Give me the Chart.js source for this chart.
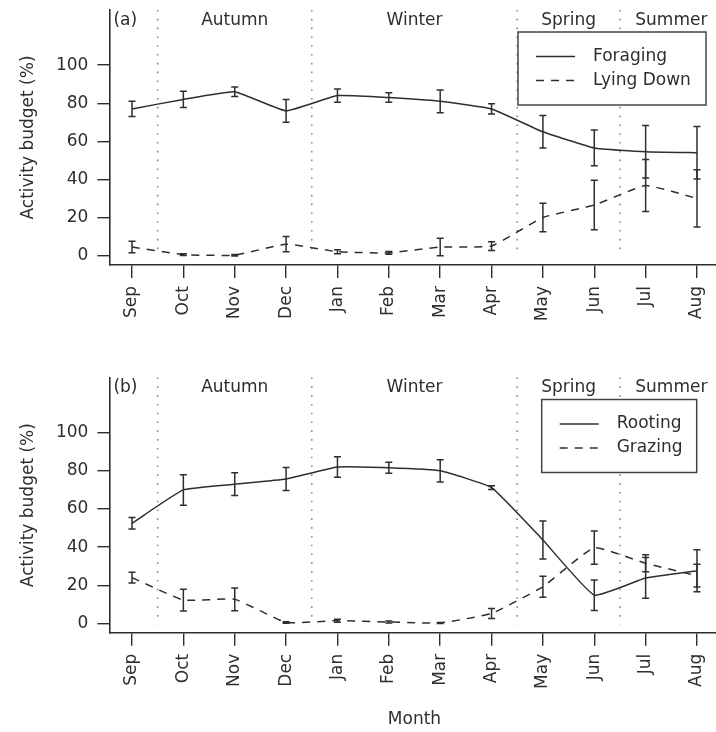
<!DOCTYPE html>
<html><head><meta charset="utf-8">
<script src="https://cdn.jsdelivr.net/npm/chart.js@4.4.1/dist/chart.umd.min.js"></script>
<style>
html,body{margin:0;padding:0;background:#fff;width:716px;height:732px;overflow:hidden;position:relative}
canvas{position:absolute;left:0;display:block}
#ca{top:0}
#cb{top:367px}
</style></head><body>
<canvas id="ca" width="724" height="367"></canvas>
<canvas id="cb" width="724" height="365"></canvas>
<script>
// ---- data ----
const months = ['Sep','Oct','Nov','Dec','Jan','Feb','Mar','Apr','May','Jun','Jul','Aug'];
const monthIndex = [0,1,2,3,4,5,6,7,8,9,10,11];
const yTicks = [0,20,40,60,80,100];
const seasonNames = ['Autumn','Winter','Spring','Summer'];
const seasonLabelX = [2, 5.5, 8.5, 10.5];
const seasonBounds = [0.5, 3.5, 7.5, 9.5];
const panelLabels = ['(a)','(b)'];

const foraging    = [77, 82, 86, 76, 84, 83, 81, 77, 65, 56.5, 54.5, 54];
const foragingErr = [4, 4.3, 2.5, 6, 3.5, 2.5, 6, 2.7, 8.5, 9.4, 13.8, 13.8];
const lyingDown   = [4.5, 0.5, 0.2, 6, 2, 1.4, 4.5, 5, 20, 26.5, 36.8, 30];
const lyingErr    = [3, 0.5, 0.4, 4, 1, 0.7, 4.6, 2.3, 7.5, 13, 13.7, 15];

const rooting     = [52.5, 70, 73, 75.7, 82, 81.6, 80, 71.2, 43.7, 14.8, 23.8, 27.6];
const rootingErr  = [3, 8, 6, 6, 5.4, 2.9, 5.8, 1, 10, 8, 10.7, 11];
const grazing     = [24, 12.2, 12.6, 0.5, 1.4, 0.7, 0.2, 5.2, 19.2, 39.7, 31.5, 25];
const grazingErr  = [2.8, 5.7, 6, 0.4, 0.8, 0.5, 0.3, 2.6, 5.5, 8.7, 4.5, 6];

// ---- style ----
const FONT = 'DejaVu Sans';
const INK = '#2e2e2e';
const DASH = [8, 7];

const decor = {
  id: 'decor',
  beforeDatasetsDraw(chart, args, o) {
    const {ctx, chartArea: ca, scales: {x, y}} = chart;
    ctx.save();
    ctx.strokeStyle = '#8c8c8c'; ctx.lineWidth = 1.6; ctx.setLineDash([1.6, 7.2]);
    seasonBounds.forEach(b => {
      const px = x.getPixelForValue(b);
      ctx.beginPath(); ctx.moveTo(px, ca.top); ctx.lineTo(px, y.getPixelForValue(0) + 1); ctx.stroke();
    });
    ctx.setLineDash([]);
    ctx.fillStyle = INK; ctx.font = '17px "' + FONT + '"';
    ctx.textBaseline = 'middle'; ctx.textAlign = 'center';
    seasonNames.forEach((s, i) => ctx.fillText(s, x.getPixelForValue(seasonLabelX[i]), ca.top + 10.5));
    ctx.textAlign = 'left';
    ctx.fillText(o.panel, ca.left + 4, ca.top + 10.5);
    ctx.restore();
  },
  afterDatasetsDraw(chart, args, o) {
    const {ctx, chartArea: ca, scales: {x, y}} = chart;
    ctx.save();
    ctx.strokeStyle = INK; ctx.lineWidth = 1.5; ctx.setLineDash([]);
    chart.data.datasets.forEach(ds => {
      ds.err.forEach((e, i) => {
        const pt = ds.data[i];
        const px = x.getPixelForValue(pt.x);
        const t = y.getPixelForValue(pt.y + e), b = y.getPixelForValue(pt.y - e);
        ctx.beginPath();
        ctx.moveTo(px, t); ctx.lineTo(px, b);
        ctx.moveTo(px - 3.5, t); ctx.lineTo(px + 3.5, t);
        ctx.moveTo(px - 3.5, b); ctx.lineTo(px + 3.5, b);
        ctx.stroke();
      });
    });
    // legend box
    const L = o.legend;
    const right = ca.right - L.right, left = right - L.width, top = ca.top + 22;
    ctx.fillStyle = '#fff';
    ctx.fillRect(left, top, L.width, 73);
    ctx.strokeStyle = '#444'; ctx.lineWidth = 1.5;
    ctx.strokeRect(left, top, L.width, 73);
    ctx.font = '17px "' + FONT + '"'; ctx.textBaseline = 'middle'; ctx.textAlign = 'left';
    chart.data.datasets.forEach((ds, i) => {
      const ry = top + 24.5 + i * 24;
      ctx.strokeStyle = INK; ctx.lineWidth = 1.5;
      ctx.setLineDash(ds.borderDash || []);
      ctx.beginPath(); ctx.moveTo(left + 18, ry); ctx.lineTo(left + 57, ry); ctx.stroke();
      ctx.setLineDash([]);
      ctx.fillStyle = INK;
      ctx.fillText(ds.label, left + 75, ry);
    });
    ctx.restore();
  }
};

function makeChart(id, sets, panel, legendOpt, xAxisH, padTop, showMonth) {
  return new Chart(document.getElementById(id), {
    type: 'line',
    data: {
      datasets: sets.map(s => ({
        label: s.label,
        data: s.data.map((v, i) => ({x: monthIndex[i], y: v})),
        err: s.err,
        borderColor: INK, borderWidth: 1.5, borderDash: s.dash, pointRadius: 0, tension: 0.12, fill: false
      }))
    },
    options: {
      responsive: false, animation: false, events: [],
      layout: {padding: {top: padTop, left: 0, right: 4.4, bottom: 0}},
      plugins: {legend: {display: false}, tooltip: {enabled: false}, decor: {panel, legend: legendOpt}},
      scales: {
        x: {
          type: 'linear', min: -0.44, max: 11.44,
          afterBuildTicks: s => { s.ticks = monthIndex.map(v => ({value: v})); },
          afterFit: s => { s.height = xAxisH; s.paddingLeft = 0; s.paddingRight = 0; },
          grid: {drawOnChartArea: false, drawTicks: true, tickLength: 13, color: INK, lineWidth: 1.4},
          border: {display: true, color: INK, width: 1.6},
          ticks: {autoSkip: false, maxRotation: 90, minRotation: 90, padding: 8, color: INK,
                  font: {family: FONT, size: 17}, callback: v => months[Math.round(v)]},
          title: {display: showMonth, text: 'Month', color: INK, font: {family: FONT, size: 17}, padding: {top: 0, bottom: 2}}
        },
        y: {
          min: -4.96, max: 128.96,
          afterBuildTicks: s => { s.ticks = yTicks.map(v => ({value: v})); },
          afterFit: s => { s.width = 109.4; s.paddingTop = 0; s.paddingBottom = 0; },
          grid: {drawOnChartArea: false, drawTicks: true, tickLength: 12, color: INK, lineWidth: 1.4},
          border: {display: true, color: INK, width: 1.6},
          ticks: {padding: 9, color: INK, font: {family: FONT, size: 17}},
          title: {display: true, text: 'Activity budget (%)', color: INK, font: {family: FONT, size: 17}, padding: {top: 18, bottom: 0}}
        }
      }
    },
    plugins: [decor]
  });
}

makeChart('ca', [
  {label: 'Foraging', data: foraging, err: foragingErr, dash: []},
  {label: 'Lying Down', data: lyingDown, err: lyingErr, dash: DASH}
], panelLabels[0], {right: 13.6, width: 188}, 102, 10, false);

makeChart('cb', [
  {label: 'Rooting', data: rooting, err: rootingErr, dash: []},
  {label: 'Grazing', data: grazing, err: grazingErr, dash: DASH}
], panelLabels[1], {right: 22.9, width: 155}, 99.2, 10.5, true);
</script></body></html>
